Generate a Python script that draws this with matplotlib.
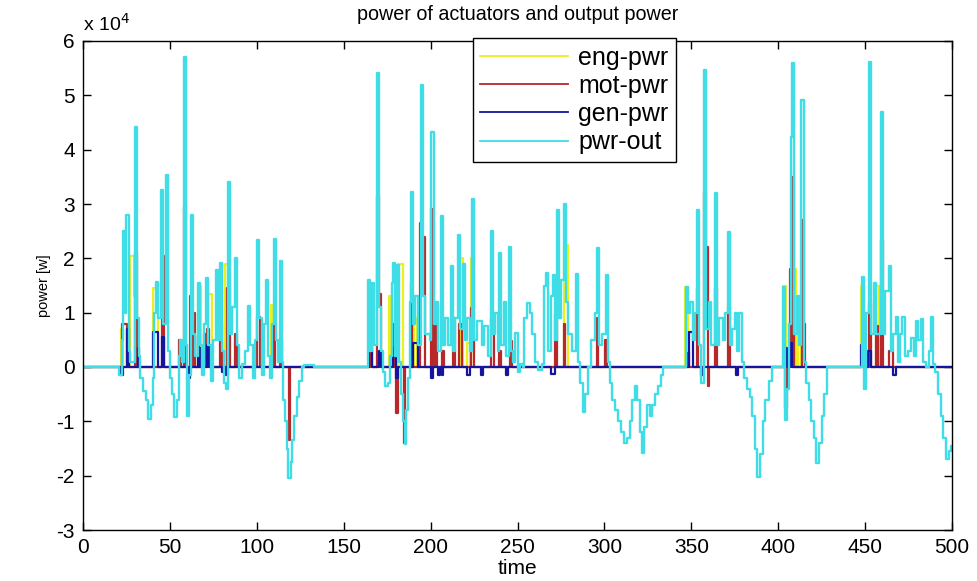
import matplotlib
matplotlib.use('Agg')
import matplotlib.pyplot as plt
from matplotlib.ticker import MultipleLocator, FuncFormatter

plt.rcParams['font.family'] = ['Liberation Sans', 'DejaVu Sans']

# values, power in units of 1e4 W, time in s
# output power: (time, value) held until the next time (sample and hold)
out_t = [0, 21, 22.3, 23, 24, 25, 26.2, 27.3, 28.5, 30, 31.3, 32.3, 33, 34.5, 36, 37.5, 39, 40,
         41, 42, 43.2, 45, 46.2, 47.5, 48.7, 49.8, 51, 52.5, 54, 55.2, 56, 57, 58, 59.2, 59.8,
         61, 62, 63.2, 64.5, 66, 67.2, 68.3, 69.5, 71, 72.2, 73.5, 75, 76.5, 77.6, 79, 80.2,
         81.3, 82.3, 83.2, 84.4, 86, 87.5, 88.7, 90, 91.5, 93, 95, 96.3, 97.8, 99, 100.3, 101.5,
         103, 104.3, 105.3, 106.5, 107.7, 109, 109.8, 111, 112.3, 113.3, 114.5, 115.3, 116.3,
         117.2, 118, 119.5, 120.5, 121.5, 123, 124.5, 126, 127, 133,
         164, 165.3, 166.5, 167.7, 169.2, 170.5, 171.5, 172.7, 173.5, 175.5, 176.7, 177.8,
         178.6, 179.8, 180.8, 182, 183, 184.3, 185, 186, 187, 188, 188.8, 190, 191.3, 192.5,
         194.4, 195.7, 197, 199.5, 200.5, 201.7, 203, 204, 206.2, 207.4, 208.5, 210, 211.6,
         212.8, 214, 216, 217.2, 218.5, 219.6, 221, 222.5, 224, 225.2, 226.5, 229.5, 231, 233,
         234.5, 235.7, 237, 238.5, 239.5, 240.7, 242, 243.5, 245, 246.2, 247.5, 248.5, 250,
         251.5, 253, 254, 255.5, 257, 258.5, 260, 262, 264, 265.5, 266.5, 267.7, 269.2, 270.5,
         271.7, 272.5, 273.7, 275, 276.7, 277.9, 279, 281.5, 283.5, 284.7, 286, 287.5, 289,
         290.5, 292.5, 294.5, 295.5, 296.7, 298.5, 300.7, 301.9, 303, 304.5, 306, 308, 309.5,
         311, 313, 314.5, 316, 317.5, 319, 320.5, 321.5, 323, 324.5, 326, 327.5, 329, 331,
         332.5, 334,
         346.8, 348, 349.5, 351, 352, 353, 354.2, 355.5, 357.3, 358.6, 360, 361.5, 363.5, 364.7,
         366, 368, 369.5, 370.9, 372.1, 373.5, 375, 376.2, 377.5, 379, 380.5, 382, 383.5, 385,
         386.5, 388, 389.5, 391, 392.5, 394.5, 396.5,
         403, 404, 405.3, 406.3, 407.3, 408.1, 409.3, 410.7, 412, 413.4, 414.6, 416, 417.5,
         419, 420.5, 422, 423.5, 425, 426.5, 428,
         448, 449.3, 450.5, 452.2, 453.4, 455, 456.2, 458.9, 460.1, 461.5, 463.5, 464.7, 466,
         467.5, 468.7, 470, 471.5, 472.7, 474.5, 476.5, 478, 479.5, 480.7, 482, 483.2, 485,
         486.5, 488, 489.2, 490.5, 492, 493.5, 495, 496.5, 498, 499.5, 500]
out_v = [0, -0.15, 0.5, 2.5, 1.0, 2.8, 0.3, 0.1, 0.1, 4.42, 0.9, 0.2, -0.2, -0.45, -0.6, -0.95,
         -0.7, -0.2, 1.0, 1.57, 0.9, 3.26, 0.8, 3.53, 0.3, -0.2, -0.5, -0.92, -0.6, 0.2, 0.5,
         0.1, 5.71, 0.4, -0.9, -0.15, 2.8, 0.6, 0.2, 1.55, 0.4, -0.15, 0.8, 1.63, 0.4, -0.25,
         0.5, 1.78, 0.5, 1.91, 0.3, -0.3, -0.4, 3.41, 0.6, 1.1, 2.0, 0.4, -0.2, 0.05, 0.3, 1.12,
         0.4, -0.2, 0.5, 2.33, 0.9, -0.15, 0.8, 1.6, 0.2, -0.2, 0.8, 2.35, 0.5, 0.1, 1.95, 0.1,
         -0.6, -1.0, -1.5, -2.05, -1.75, -1.35, -0.9, -0.55, -0.25, 0.0, 0.03, 0.0,
         1.6, 0.3, 1.55, 0.4, 5.41, 1.1, 0.3, -0.1, -0.35, -0.3, 0.2, 1.55, 1.91, 0.2, 1.88,
         0.1, -0.5, -1.0, -1.42, -0.8, -0.2, 1.2, 3.22, 0.8, 1.3, 0.4, 5.19, 1.3, 0.6, 0.5,
         4.33, 0.8, 1.2, 0.3, 2.77, 0.4, 0.9, 0.4, 1.85, 0.3, 0.9, 2.43, 0.7, 1.9, 0.5, 0.9,
         0.3, 3.1, 0.5, 0.85, 0.4, 0.75, 0.2, 2.5, 0.6, 1.0, 0.3, 2.1, 0.4, 1.2, 0.2, 2.2, 0.3,
         0.1, 0.62, -0.1, 0.05, 0.0, 0.9, 1.18, 1.0, 0.6, 0.1, -0.05, 0.05, 1.5, 1.73, 0.3, 1.3,
         1.7, 0.5, 2.89, 0.9, 1.6, 3.0, 1.2, 0.6, 0.3, 1.72, 0.1, -0.3, -0.83, -0.5, 0.0, 0.5,
         1.0, 2.19, 0.4, 0.6, 1.69, 0.1, -0.3, -0.6, -0.8, -1.0, -1.2, -1.4, -1.3, -1.0, -0.6,
         -0.35, -0.6, -1.2, -1.58, -1.1, -0.7, -0.9, -0.7, -0.5, -0.35, -0.15, 0.0,
         1.47, 1.0, 1.2, 0.5, 1.0, 2.89, 0.4, -0.3, 5.47, 0.7, 1.2, 0.4, 3.2, 0.4, 0.9, 0.5,
         1.0, 2.49, 0.4, 0.7, 1.0, 0.3, 1.0, 0.1, -0.2, -0.4, -0.55, -0.9, -1.5, -2.03, -1.6,
         -1.0, -0.6, -0.25, 0.0,
         1.48, -0.97, -0.4, 0.8, 4.24, 5.6, 0.6, 1.3, 0.4, 4.92, 0.1, -0.3, -0.6, -1.0, -1.3,
         -1.77, -1.4, -0.9, -0.5, 0.0,
         1.66, -0.4, 1.0, 5.62, 0.6, 1.55, 0.6, 4.7, 0.6, 1.4, 1.85, 0.3, 0.6, 0.92, 0.1, 0.6,
         0.92, 0.2, 0.3, 0.53, 0.2, 0.85, 0.5, 0.88, 0.1, 0.0, 0.3, 0.92, 0.05, -0.1, -0.5,
         -0.9, -1.3, -1.7, -1.55, -1.45, -1.45]

# actuator powers: pulses (start, end, value), zero elsewhere
eng_pulses = [(22, 23.3, 0.7), (27, 29.5, 2.05), (29.5, 31, 1.3), (40.5, 43, 1.45),
              (66, 68, 1.5), (72, 74, 1.35), (81.5, 83.5, 1.9), (108, 109.5, 1.15),
              (176, 177.5, 1.3), (181.5, 184, 1.9), (190.5, 192, 0.9), (217, 218.5, 2.0),
              (221, 222.5, 0.45), (223.5, 225, 2.0), (277, 279, 2.25),
              (346.5, 348, 1.47),
              (403, 404.5, 1.5), (408.5, 410, 1.8), (411.5, 413, 1.0),
              (447.8, 449.5, 1.5), (456.5, 458, 1.5), (458.5, 459.5, 1.4)]
mot_pulses = [(22.5, 25.5, 0.8), (29.8, 31, 2.1), (45.5, 46.7, 2.05), (55.5, 56.5, 0.5),
              (58, 59, 2.95), (61.5, 62.7, 1.3), (63.2, 64.2, 1.0), (69.5, 70.5, 0.6),
              (71.5, 72.5, 0.7), (79, 80, 0.8), (83, 84.5, 1.45), (87.5, 88.5, 0.6),
              (100, 102, 0.92), (109.5, 110.5, 0.8), (113.3, 114.3, 0.5), (118.5, 119.3, -1.35),
              (165, 166.5, 0.35), (169.3, 170.3, 3.14), (170.3, 171.3, 1.35), (178.5, 179.5, 0.8),
              (180.3, 181.2, -0.85), (184.8, 185.5, -1.4), (188.5, 189.5, 1.55),
              (193.8, 195.2, 2.65), (195.2, 196.5, 2.4), (200.5, 201.5, 2.9), (202.5, 203.5, 1.0),
              (206.5, 207.5, 0.3), (213, 214, 0.9), (216.5, 217.8, 0.8), (223, 224.2, 1.09),
              (224.2, 225.2, 0.6), (235, 236.2, 0.9), (239.5, 240.5, 0.3), (245.5, 247, 0.48),
              (271.7, 272.7, 0.98), (276.5, 277.5, 0.8), (295.5, 296.5, 0.9), (300.5, 301.5, 0.5),
              (347.5, 348.5, 0.25), (353, 354, 1.45), (357.5, 358.6, 3.22), (358.6, 359.6, 2.2),
              (359.6, 360.3, -0.35), (363.7, 364.7, 1.45), (371, 372, 1.1),
              (403.8, 405, -0.75), (407, 408, 1.8), (408.1, 409.2, 3.5), (413.5, 414.6, 2.7),
              (414.6, 415.5, 0.8),
              (452, 453.5, 1.18), (456.5, 457.5, 0.75), (459, 460.1, 2.34), (464, 466, 0.3)]
gen_pulses = [(21.3, 23, -0.15), (25.2, 26.5, 0.7), (31.5, 32.5, 0.35), (40.5, 43, 0.65),
              (45.5, 46.5, 0.55), (60.5, 61.5, -0.2), (66, 67, 0.55), (68, 69, 0.35),
              (71.5, 72.7, 0.4), (80, 81, -0.1), (82.5, 83.5, -0.15),
              (164.5, 166.5, 0.6), (170.3, 171.3, 0.3), (178.5, 180, 0.35), (180, 181, -0.2),
              (190, 192.5, 0.45), (200.5, 201.5, -0.2), (204, 205.2, -0.15), (206.5, 207.3, -0.15),
              (221.2, 222.4, -0.15), (229, 230.2, -0.15), (243.2, 244.4, -0.15),
              (269.5, 271.5, -0.12),
              (348.5, 351, 0.65), (355.8, 357, -0.15), (375.5, 377, -0.15),
              (403.3, 405, 0.35), (407, 408, 0.45),
              (447.8, 450, 0.4), (451.8, 453.5, 0.3), (466, 467.5, -0.15)]

labels = ['eng-pwr', 'mot-pwr', 'gen-pwr', 'pwr-out']
colors = ['#ecef1c', '#b8282a', '#14149e', '#3fdde6']


def pulses_to_steps(pulses, t_end=500):
    # turn (start, end, value) pulses into a sample-and-hold trace
    t, v = [0.0], [0.0]
    last_end = None
    for s, e, val in pulses:
        if last_end is not None and s > last_end:
            t.append(last_end)
            v.append(0.0)
        t.append(s)
        v.append(val)
        last_end = e
    t += [last_end, t_end]
    v += [0.0, 0.0]
    return t, v


fig = plt.figure(figsize=(9.78, 5.81), dpi=100)
ax = fig.add_axes([83 / 978, 1 - 530 / 581, 869 / 978, 489 / 581])

for pulses, lab, col in zip([eng_pulses, mot_pulses, gen_pulses], labels[:3], colors[:3]):
    t, v = pulses_to_steps(pulses)
    ax.plot(t, [x * 1e4 for x in v], drawstyle='steps-post', color=col, lw=1.6, label=lab)
ax.plot(out_t, [x * 1e4 for x in out_v], drawstyle='steps-post', color=colors[3], lw=1.7,
        label=labels[3])

ax.set_xlim(0, 500)
ax.set_ylim(-3e4, 6e4)
ax.xaxis.set_major_locator(MultipleLocator(50))
ax.yaxis.set_major_locator(MultipleLocator(1e4))
ax.yaxis.set_major_formatter(FuncFormatter(lambda y, p: '%g' % (y / 1e4)))
ax.tick_params(direction='in', top=True, right=True, length=6, width=1,
               labelsize=15, pad=6)
for s in ax.spines.values():
    s.set_linewidth(1.0)

ax.text(0.0, 1.012, 'x 10$^4$', transform=ax.transAxes, fontsize=14,
        ha='left', va='bottom')
ax.set_title('power of actuators and output power', fontsize=14.2, pad=15)
ax.set_xlabel('time', fontsize=15, labelpad=1)
ax.set_ylabel('power [w]', fontsize=10.5, labelpad=4)

leg = ax.legend(loc='upper left', bbox_to_anchor=(473 / 978, 1 - 38 / 581),
                bbox_transform=fig.transFigure, borderaxespad=0, fontsize=18,
                handlelength=3.5, handletextpad=0.4, labelspacing=0.17,
                borderpad=0.3, fancybox=False, framealpha=1)
leg.get_frame().set_edgecolor('black')
leg.get_frame().set_linewidth(1.0)
for line in leg.get_lines():
    line.set_linewidth(1.3)

fig.savefig('out.png', dpi=100)
